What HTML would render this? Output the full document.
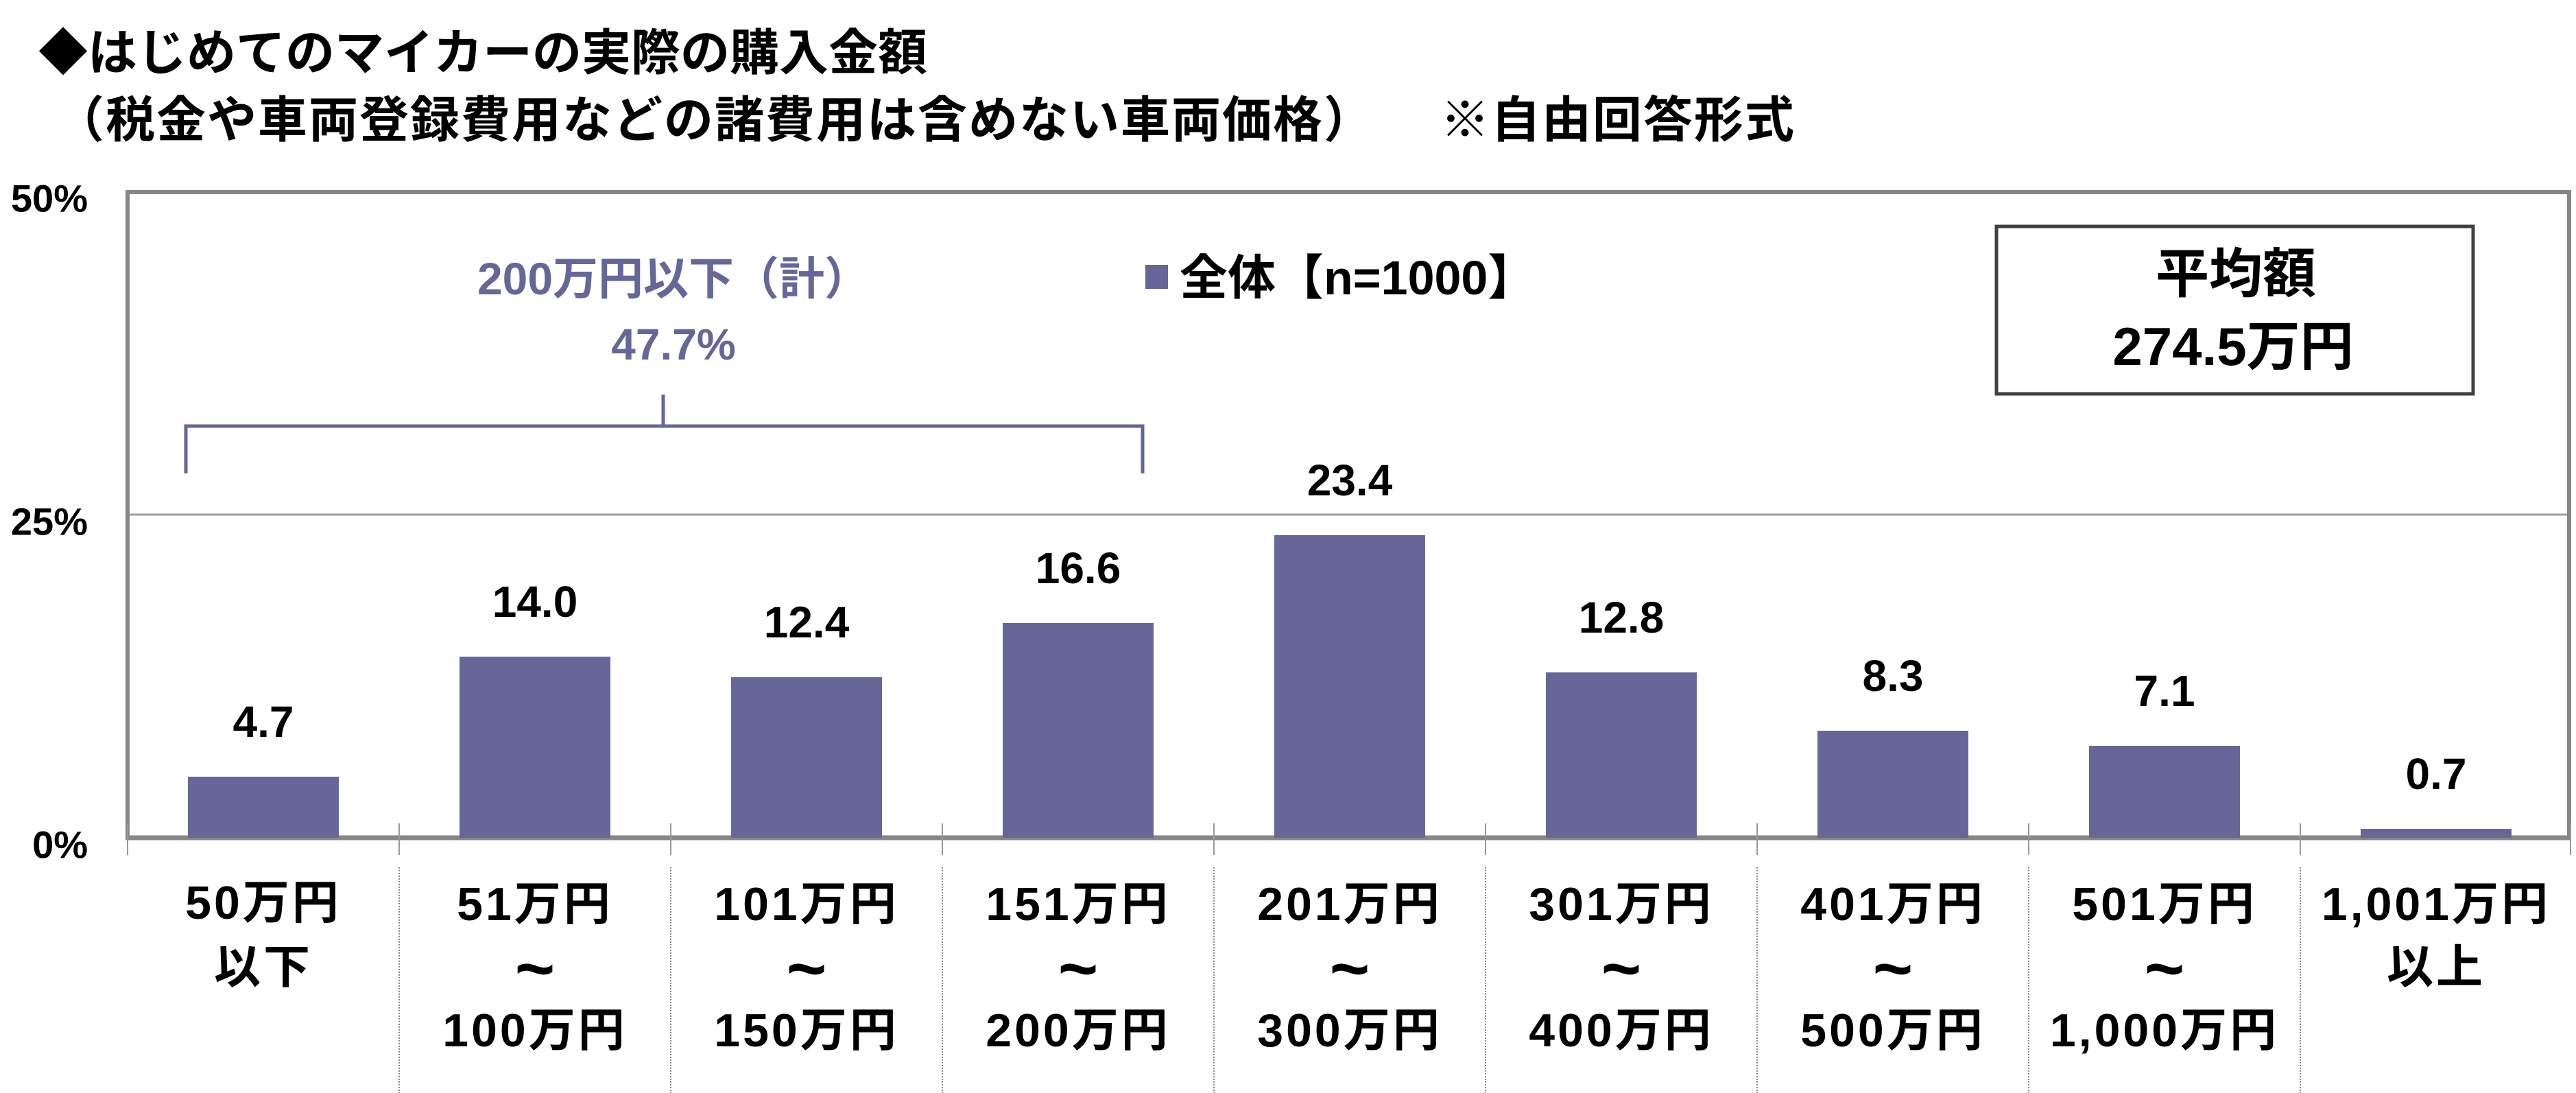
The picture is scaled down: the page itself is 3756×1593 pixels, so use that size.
<!DOCTYPE html>
<html><head><meta charset="utf-8"><style>
html,body{margin:0;padding:0;background:#fff;}
svg{display:block;}
text{font-family:"Liberation Sans","Noto Sans CJK JP",sans-serif;font-weight:bold;}
</style></head><body>
<svg width="3756" height="1593" viewBox="0 0 3756 1593" xmlns="http://www.w3.org/2000/svg">
<rect width="3756" height="1593" fill="#fff"/>
<text x="56" y="78" font-size="72" dominant-baseline="central" font-family="Noto Sans CJK JP, sans-serif">◆はじめてのマイカーの実際の購入金額</text>
<text x="80" y="176" font-size="72" letter-spacing="2" dominant-baseline="central" font-family="Noto Sans CJK JP, sans-serif">（税金や車両登録費用などの諸費用は含めない車両価格）</text>
<text x="2100" y="176" font-size="72" letter-spacing="2" dominant-baseline="central" font-family="Noto Sans CJK JP, sans-serif">※自由回答形式</text>

<line x1="184" y1="750" x2="3748" y2="750" stroke="#a0a0a0" stroke-width="3"/>
<rect x="186" y="280" width="3560" height="941" fill="none" stroke="#868686" stroke-width="6"/>
<line x1="183" y1="1221" x2="3749" y2="1221" stroke="#868686" stroke-width="7"/>

<g font-size="56" text-anchor="end" dominant-baseline="central">
<text x="128" y="289">50%</text>
<text x="128" y="760">25%</text>
<text x="128" y="1231">0%</text>
</g>

<g stroke="#999" stroke-width="2">
<line x1="186" y1="1200" x2="186" y2="1246"/>
<line x1="582" y1="1200" x2="582" y2="1246"/>
<line x1="978" y1="1200" x2="978" y2="1246"/>
<line x1="1374" y1="1200" x2="1374" y2="1246"/>
<line x1="1770" y1="1200" x2="1770" y2="1246"/>
<line x1="2166" y1="1200" x2="2166" y2="1246"/>
<line x1="2562" y1="1200" x2="2562" y2="1246"/>
<line x1="2958" y1="1200" x2="2958" y2="1246"/>
<line x1="3354" y1="1200" x2="3354" y2="1246"/>
<line x1="3748" y1="1200" x2="3748" y2="1246"/>
</g>
<g stroke="#888" stroke-width="2" stroke-dasharray="2,2">
<line x1="582" y1="1264" x2="582" y2="1593"/>
<line x1="978" y1="1264" x2="978" y2="1593"/>
<line x1="1374" y1="1264" x2="1374" y2="1593"/>
<line x1="1770" y1="1264" x2="1770" y2="1593"/>
<line x1="2166" y1="1264" x2="2166" y2="1593"/>
<line x1="2562" y1="1264" x2="2562" y2="1593"/>
<line x1="2958" y1="1264" x2="2958" y2="1593"/>
<line x1="3354" y1="1264" x2="3354" y2="1593"/>
</g>

<g fill="#666699">
<rect x="274" y="1132" width="220" height="89"/>
<rect x="670" y="957" width="220" height="264"/>
<rect x="1066" y="987" width="220" height="234"/>
<rect x="1462" y="908" width="220" height="313"/>
<rect x="1858" y="780" width="220" height="441"/>
<rect x="2254" y="980" width="220" height="241"/>
<rect x="2650" y="1065" width="220" height="156"/>
<rect x="3046" y="1087" width="220" height="134"/>
<rect x="3442" y="1208" width="220" height="13"/>
</g>

<g font-size="64" text-anchor="middle" dominant-baseline="central">
<text x="384" y="1052">4.7</text>
<text x="780" y="877">14.0</text>
<text x="1176" y="907">12.4</text>
<text x="1572" y="828">16.6</text>
<text x="1968" y="700">23.4</text>
<text x="2364" y="900">12.8</text>
<text x="2760" y="985">8.3</text>
<text x="3156" y="1007">7.1</text>
<text x="3552" y="1128">0.7</text>
</g>

<g font-size="68" text-anchor="middle" dominant-baseline="central" letter-spacing="4">
<text x="384" y="1316">50万円</text><text x="384" y="1410">以下</text>
<text x="780" y="1318">51万円</text><text x="780" y="1502">100万円</text>
<text x="1176" y="1318">101万円</text><text x="1176" y="1502">150万円</text>
<text x="1572" y="1318">151万円</text><text x="1572" y="1502">200万円</text>
<text x="1968" y="1318">201万円</text><text x="1968" y="1502">300万円</text>
<text x="2364" y="1318">301万円</text><text x="2364" y="1502">400万円</text>
<text x="2760" y="1318">401万円</text><text x="2760" y="1502">500万円</text>
<text x="3156" y="1318">501万円</text><text x="3156" y="1502">1,000万円</text>
<text x="3552" y="1318">1,001万円</text><text x="3552" y="1410">以上</text>
</g>
<g font-size="100" text-anchor="middle" dominant-baseline="central" font-family="Liberation Sans, sans-serif">
<text x="780" y="1412">~</text>
<text x="1176" y="1412">~</text>
<text x="1572" y="1412">~</text>
<text x="1968" y="1412">~</text>
<text x="2364" y="1412">~</text>
<text x="2760" y="1412">~</text>
<text x="3156" y="1412">~</text>
</g>

<g stroke="#666699" stroke-width="5" fill="none">
<polyline points="271,690 271,621 1666,621 1666,690"/>
<line x1="967" y1="575" x2="967" y2="621"/>
</g>
<text x="982" y="406" font-size="66" fill="#666699" text-anchor="middle" dominant-baseline="central">200万円以下（計）</text>
<text x="982" y="502" font-size="64" fill="#666699" text-anchor="middle" dominant-baseline="central">47.7%</text>

<rect x="1670" y="386" width="33" height="35" fill="#666699"/>
<text x="1720" y="405" font-size="70" dominant-baseline="central">全体【n=1000】</text>

<rect x="2911" y="330" width="695" height="244" fill="#fff" stroke="#404040" stroke-width="5"/>
<text x="3260" y="399" font-size="78" text-anchor="middle" dominant-baseline="central">平均額</text>
<text x="3256" y="505" font-size="78" text-anchor="middle" dominant-baseline="central">274.5万円</text>
</svg>
</body></html>
